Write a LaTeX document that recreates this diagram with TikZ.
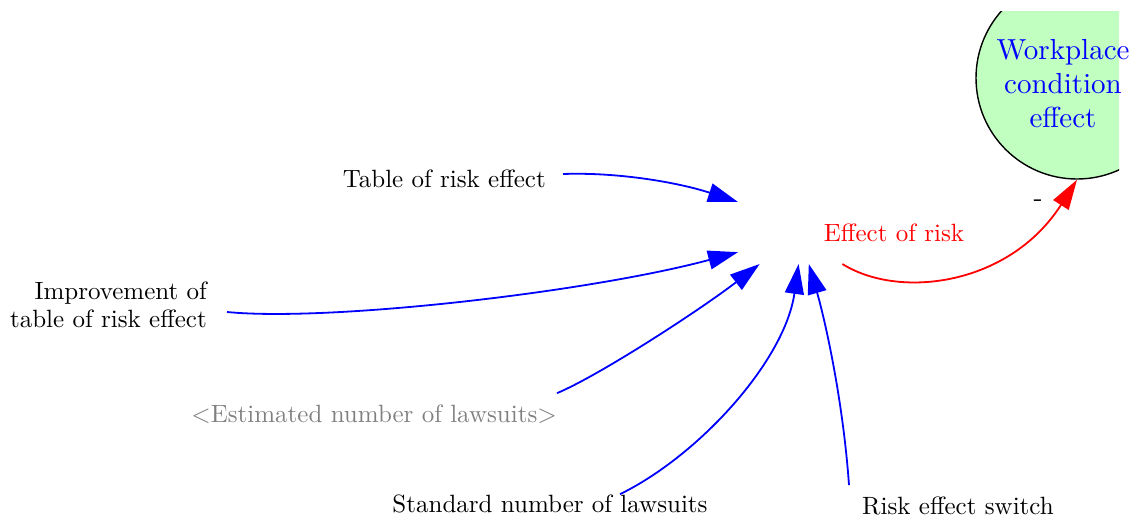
\documentclass[tikz,border=0pt]{standalone}
\usepackage{fontspec}
\setmainfont{lmroman10-regular}[Extension=.otf]
\usetikzlibrary{arrows.meta}
\definecolor{flowblue}{RGB}{0,0,255}
\definecolor{flowred}{RGB}{255,0,0}
\definecolor{shadowgray}{RGB}{128,128,128}
\definecolor{auxgreen}{RGB}{192,255,192}
\tikzset{
  lbl/.style={font=\fontsize{25}{28}\selectfont, inner sep=0pt},
  link/.style={draw=flowblue, line width=1.8pt, -{Triangle[length=30pt,width=19pt]}},
  neglink/.style={draw=flowred, line width=1.8pt, -{Triangle[length=30pt,width=18pt]}},
}
\begin{document}
\begin{tikzpicture}[x=1pt,y=-1pt]
\useasboundingbox (0,0) rectangle (1134,522);

% auxiliary variable, cut off by the frame
\begin{scope}
  \clip (0,11) rectangle (1119,522);
  \node[circle, draw=black, line width=1.4pt, fill=auxgreen, minimum size=202pt, inner sep=0pt] (wce) at (1077,78) {};
\end{scope}
\node[font=\fontsize{29}{34}\selectfont, text=flowblue, align=center, inner sep=0pt] (wcetext) at (1063,84) {Workplace\\condition\\effect};

% central variable
\node[lbl, text=flowred, minimum width=312pt, minimum height=62pt, outer sep=0pt] (eff) at (894,233) {Effect of risk};

% inputs
\node[lbl, anchor=east, inner xsep=17pt] (tab) at (563,179) {Table of risk effect};
\node[lbl, align=right, anchor=east, inner xsep=20pt] (imp) at (227,305) {Improvement of\\table of risk effect};
\node[lbl, text=shadowgray, anchor=base east, inner xsep=0pt, inner ysep=11pt] (est) at (557,422) {<Estimated number of lawsuits>};
\node[lbl, anchor=base] (std) at (550,512) {Standard number of lawsuits};
\node[lbl, anchor=base west, inner xsep=13pt, inner ysep=11pt] (sw) at (849,514) {Risk effect switch};
\node[lbl, font=\fontsize{27}{28}\bfseries] (pol) at (1038,203) {-};

% causal links
\draw[link] ([yshift=5pt]tab.east) .. controls (620,172) and (680,183) .. (eff.north west);
\draw[link] ([yshift=-7pt]imp.east) .. controls (330,322) and (590,292) .. (eff.187.3);
\draw[link] (est.north east) .. controls (600,375) and (700,310) .. (eff.193.6);
\draw[link] ([xshift=70pt]std.north) .. controls (700,455) and (785,360) .. (eff.198.3);
\draw[link] (sw.north west) .. controls (843,400) and (825,320) .. (eff.200.3);
\draw[neglink] (eff.211.3) .. controls (900,300) and (1010,285) .. (wce.south);
\end{tikzpicture}
\end{document}
